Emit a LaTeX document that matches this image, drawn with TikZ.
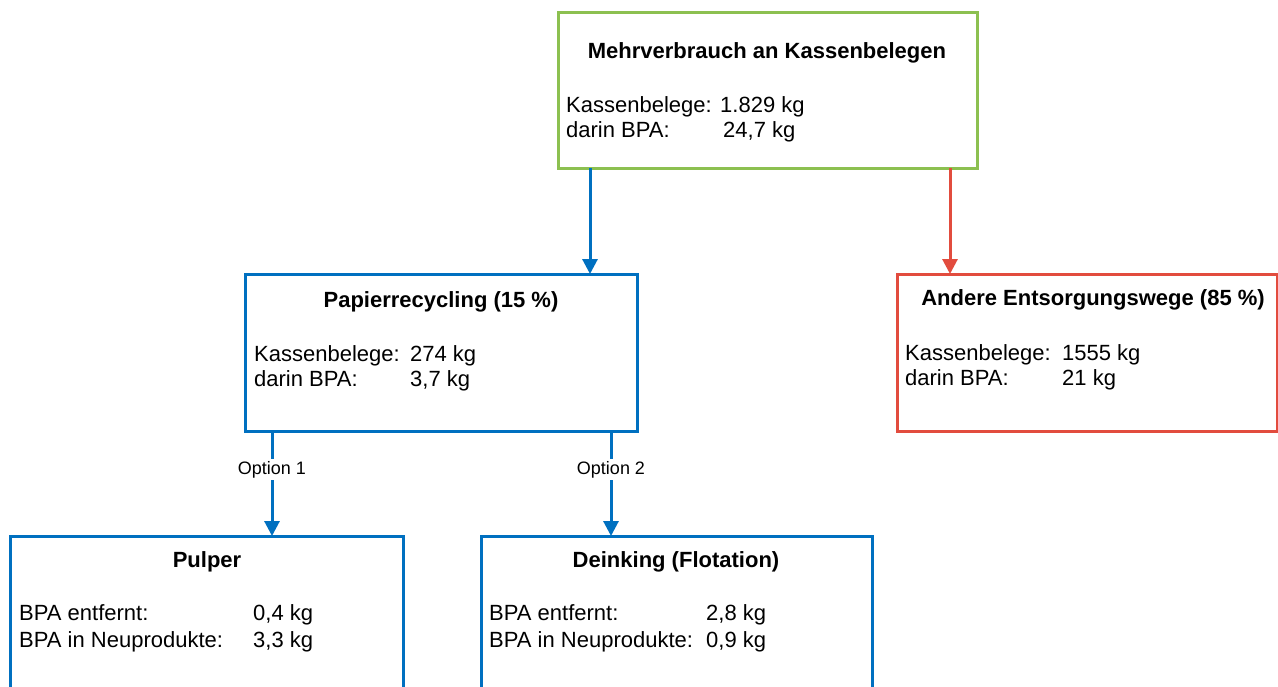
\documentclass[tikz,border=0pt]{standalone}
\usepackage{fontspec}
\setmainfont{Liberation Sans}
\usetikzlibrary{arrows.meta}
\definecolor{cgreen}{RGB}{140,192,80}
\definecolor{cblue}{RGB}{0,112,192}
\definecolor{cred}{RGB}{226,76,62}
\begin{document}
\begin{tikzpicture}[x=1pt,y=-1pt,
  box/.style={draw,line width=3pt,fill=white,inner sep=0pt,outer sep=0pt},
  ttl/.style={anchor=base,inner sep=0pt,font=\bfseries\fontsize{22}{26}\selectfont},
  txt/.style={anchor=base west,inner sep=0pt,font=\fontsize{22}{26}\selectfont},
  arr/.style={line width=3pt,-{Triangle[width=15pt,length=15pt]}},
  opt/.style={fill=white,inner sep=2pt,font=\fontsize{18}{20}\selectfont}]
\clip (0,0) rectangle (1278,686);
\fill[white] (0,0) rectangle (1278,686);
% boxes
\node[box,draw=cgreen,minimum width=419pt,minimum height=156pt] (top) at (767.5,90) {};
\node[box,draw=cblue,minimum width=392pt,minimum height=157pt] (pap) at (441,352.5) {};
\node[box,draw=cred,minimum width=380pt,minimum height=157pt] (and) at (1087,352.5) {};
\node[box,draw=cblue,minimum width=393pt,minimum height=170pt] (pul) at (206.5,621) {};
\node[box,draw=cblue,minimum width=391pt,minimum height=170pt] (dei) at (676.5,621) {};
% connectors
\coordinate (xa) at (590,0);
\coordinate (xb) at (950,0);
\coordinate (xc) at (272,0);
\coordinate (xd) at (611,0);
\draw[arr,cblue] (top.south -| xa) -- (pap.north -| xa);
\draw[arr,cred] (top.south -| xb) -- (and.north -| xb);
\draw[arr,cblue] (pap.south -| xc) -- node[opt,pos=0.37,text=black] (o1) {Option 1} (pul.north -| xc);
\draw[arr,cblue] (pap.south -| xd) -- node[opt,pos=0.37,text=black] (o2) {Option 2} (dei.north -| xd);
% texts top
\node[ttl] (t1) at (767,58) {Mehrverbrauch an Kassenbelegen};
\node[txt] (t1a) at (566,112) {Kassenbelege:};
\node[txt] (t1b) at (720,112) {1.829 kg};
\node[txt] (t1c) at (566,137) {darin BPA:};
\node[txt] (t1d) at (723,137) {24,7 kg};
% Papierrecycling
\node[ttl] (t2) at (441,307) {Papierrecycling (15 \%)};
\node[txt] (t2a) at (254,361) {Kassenbelege:};
\node[txt] (t2b) at (410,361) {274 kg};
\node[txt] (t2c) at (254,386) {darin BPA:};
\node[txt] (t2d) at (410,386) {3,7 kg};
% Andere
\node[ttl] (t3) at (1093,305) {Andere Entsorgungswege (85 \%)};
\node[txt] (t3a) at (905,360) {Kassenbelege:};
\node[txt] (t3b) at (1062,360) {1555 kg};
\node[txt] (t3c) at (905,385) {darin BPA:};
\node[txt] (t3d) at (1062,385) {21 kg};
% Pulper
\node[ttl] (t4) at (207,567) {Pulper};
\node[txt] (t4a) at (19,620) {BPA entfernt:};
\node[txt] (t4b) at (253,620) {0,4 kg};
\node[txt] (t4c) at (19,647) {BPA in Neuprodukte:};
\node[txt] (t4d) at (253,647) {3,3 kg};
% Deinking
\node[ttl] (t5) at (676,567) {Deinking (Flotation)};
\node[txt] (t5a) at (489,620) {BPA entfernt:};
\node[txt] (t5b) at (706,620) {2,8 kg};
\node[txt] (t5c) at (489,647) {BPA in Neuprodukte:};
\node[txt] (t5d) at (706,647) {0,9 kg};
\end{tikzpicture}
\end{document}
